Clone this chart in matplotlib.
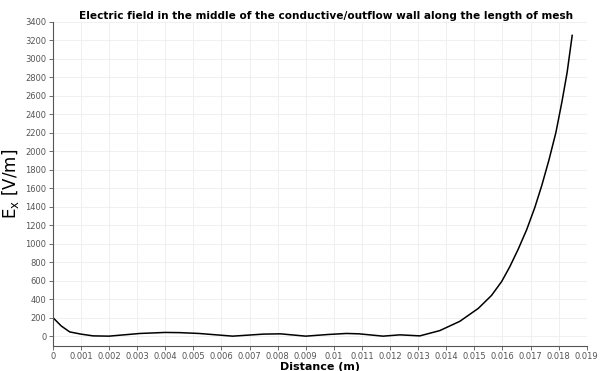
import numpy as np
import matplotlib.pyplot as plt

# distance along the mesh (m) and E_x (V/m) sampled at the wall midline
distance = [0.0, 0.0003, 0.0006, 0.001, 0.00143, 0.002, 0.0031, 0.004, 0.00452,
            0.0052, 0.0064, 0.0075, 0.0081, 0.009, 0.0098, 0.01045, 0.0109,
            0.01175, 0.01235, 0.01306, 0.01377, 0.01448, 0.01514, 0.01561,
            0.01597, 0.01626, 0.01656, 0.01686, 0.01715, 0.0174, 0.01765,
            0.0179, 0.01812, 0.0183, 0.01848]
e_x = [202, 110, 46, 22, 3, 0, 29, 40, 38,
       29, 0, 22, 25, 0, 18, 29, 25,
       0, 14, 3, 60, 160, 300, 440,
       590, 750, 940, 1150, 1390, 1630, 1900,
       2200, 2540, 2850, 3250]

xticks = np.arange(0, 0.0195, 0.001)
xlabels = ["0"] + ["%g" % round(t, 3) for t in xticks[1:]]
yticks = np.arange(0, 3401, 200)

fig = plt.figure(figsize=(6, 3.71), dpi=100)
ax = fig.add_axes([0.088, 0.067, 0.89, 0.875])

ax.plot(distance, e_x, color="black", lw=1.1)

ax.set_xlim(0, 0.019)
ax.set_ylim(-108, 3400)
ax.set_xticks(xticks)
ax.set_xticklabels(xlabels)
ax.set_yticks(yticks)
ax.tick_params(labelsize=6, colors="#555555", length=3, width=0.6, pad=1.5)
ax.grid(True, color="#eeeeee", lw=0.6)
ax.set_axisbelow(True)
for s in ["top", "right"]:
    ax.spines[s].set_visible(False)
for s in ["left", "bottom"]:
    ax.spines[s].set_color("#555555")
    ax.spines[s].set_linewidth(0.8)

ax.set_xlabel("Distance (m)", fontsize=8, fontweight="bold")
ax.xaxis.set_label_coords(0.5, -0.048)
ax.set_ylabel(r"E$_\mathregular{x}$ [V/m]", fontsize=12)
ax.yaxis.set_label_coords(-0.06, 0.5)
fig.text(0.543, 0.957, "Electric field in the middle of the conductive/outflow wall along the length of mesh",
         fontsize=7.6, fontweight="bold", ha="center", va="center")

fig.savefig("out.png", dpi=100)
